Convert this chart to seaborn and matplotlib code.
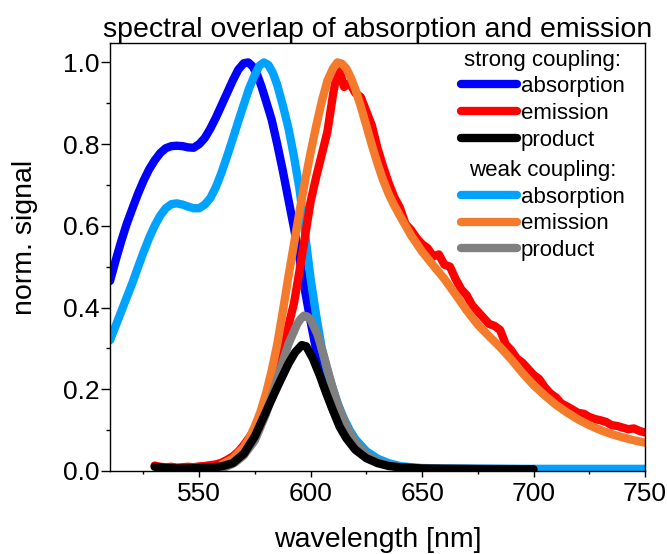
import matplotlib
matplotlib.use("Agg")
import matplotlib.pyplot as plt
import seaborn as sns
import pandas as pd

# ---- strong coupling: absorption ----
abs_strong_nm = [510, 512.5, 515, 517.5, 520, 522.5, 525, 527.5, 530, 532.5, 535, 537.5, 540,
                 542.5, 545, 547.5, 550, 552.5, 555, 557.5, 560, 562.5, 565, 567.5, 570, 572,
                 574, 576, 578, 580, 582.5, 585, 587.5, 590, 592.5, 595, 597.5, 600, 602.5,
                 605, 607.5, 610, 612.5, 615, 617.5, 620, 625, 630, 635, 640, 645, 650, 660,
                 700, 750]
abs_strong = [0.465, 0.515, 0.562, 0.605, 0.642, 0.678, 0.71, 0.738, 0.76, 0.778, 0.79, 0.795,
              0.796, 0.795, 0.792, 0.791, 0.80, 0.815, 0.838, 0.865, 0.895, 0.925, 0.955,
              0.982, 0.998, 1.0, 0.99, 0.97, 0.94, 0.905, 0.86, 0.80, 0.735, 0.665, 0.595,
              0.52, 0.44, 0.365, 0.295, 0.235, 0.188, 0.15, 0.12, 0.095, 0.075, 0.058, 0.036,
              0.022, 0.014, 0.009, 0.007, 0.006, 0.005, 0.004, 0.004]

# ---- weak coupling: absorption ----
abs_weak_nm = [510, 512.5, 515, 517.5, 520, 522.5, 525, 527.5, 530, 532.5, 535, 537.5, 540,
               542.5, 545, 547.5, 550, 552.5, 555, 557.5, 560, 562.5, 565, 567.5, 570, 572.5,
               575, 577, 579, 581, 583, 585, 587.5, 590, 592.5, 595, 597.5, 600, 602.5, 605,
               607.5, 610, 612.5, 615, 617.5, 620, 625, 630, 635, 640, 645, 650, 660, 700, 750]
abs_weak = [0.32, 0.355, 0.39, 0.425, 0.46, 0.498, 0.535, 0.57, 0.60, 0.625, 0.643, 0.653,
            0.655, 0.652, 0.647, 0.643, 0.643, 0.652, 0.668, 0.695, 0.73, 0.77, 0.812, 0.855,
            0.897, 0.938, 0.97, 0.992, 1.0, 0.994, 0.975, 0.945, 0.895, 0.84, 0.77, 0.69,
            0.58, 0.47, 0.38, 0.30, 0.245, 0.20, 0.16, 0.127, 0.10, 0.078, 0.048, 0.03, 0.019,
            0.012, 0.009, 0.007, 0.006, 0.005, 0.005]

# ---- strong coupling: emission (measured, noisy) ----
em_strong_nm = [530, 532.5, 535, 537.5, 540, 542.5, 545, 547.5, 550, 552.5, 555, 557.5, 560,
                562.5, 565, 567.5, 570, 572.5, 575, 577.5, 580, 582.5, 585, 587.5, 590, 592.5,
                595, 597.5, 600, 602.5, 605, 607.5, 610, 611.5, 613, 615, 617.5, 620, 622.5,
                625, 627.5, 630, 632.5, 635, 637.5, 640, 642.5, 645, 647.5, 650, 652.5, 655,
                657.5, 660, 662.5, 665, 667.5, 670, 672.5, 675, 677.5, 680, 682.5, 685, 687.5,
                690, 692.5, 695, 697.5, 700, 702.5, 705, 707.5, 710, 712.5, 715, 717.5, 720,
                722.5, 725, 727.5, 730, 732.5, 735, 737.5, 740, 742.5, 745, 747.5, 750]
em_strong = [0.013, 0.010, 0.009, 0.010, 0.008, 0.009, 0.010, 0.009, 0.011, 0.012, 0.014,
             0.016, 0.020, 0.027, 0.035, 0.047, 0.063, 0.082, 0.103, 0.128, 0.158, 0.195,
             0.24, 0.29, 0.355, 0.41, 0.49, 0.575, 0.66, 0.72, 0.775, 0.83, 0.92, 0.965, 0.98,
             0.94, 0.95, 0.925, 0.915, 0.88, 0.845, 0.79, 0.745, 0.705, 0.67, 0.645, 0.605,
             0.59, 0.57, 0.555, 0.545, 0.525, 0.53, 0.505, 0.50, 0.47, 0.445, 0.43, 0.405,
             0.39, 0.375, 0.36, 0.355, 0.345, 0.31, 0.295, 0.275, 0.265, 0.25, 0.235, 0.225,
             0.205, 0.19, 0.18, 0.165, 0.158, 0.15, 0.142, 0.14, 0.132, 0.127, 0.124, 0.12,
             0.112, 0.11, 0.106, 0.102, 0.104, 0.098, 0.094]

# ---- weak coupling: emission ----
em_weak_nm = [560, 565, 570, 572.5, 575, 577.5, 580, 582.5, 585, 587.5, 590, 592.5, 595, 597.5,
              600, 602.5, 605, 607.5, 610, 612, 614, 616, 618, 620, 622.5, 625, 627.5, 630,
              632.5, 635, 637.5, 640, 645, 650, 655, 660, 665, 670, 675, 680, 685, 690, 695,
              700, 705, 710, 715, 720, 725, 730, 735, 740, 745, 750]
em_weak = [0.015, 0.03, 0.058, 0.08, 0.11, 0.145, 0.19, 0.245, 0.31, 0.39, 0.475, 0.555, 0.635,
           0.71, 0.78, 0.845, 0.905, 0.955, 0.985, 1.0, 0.997, 0.985, 0.963, 0.935, 0.892,
           0.845, 0.797, 0.752, 0.712, 0.678, 0.65, 0.625, 0.577, 0.537, 0.503, 0.47, 0.432,
           0.393, 0.358, 0.33, 0.303, 0.273, 0.24, 0.21, 0.185, 0.162, 0.143, 0.126, 0.112,
           0.10, 0.09, 0.082, 0.075, 0.069]

# ---- strong coupling: overlap product ----
prod_strong_nm = [530, 535, 540, 545, 550, 555, 560, 565, 570, 575, 580, 585, 590, 593, 596,
                  598, 601, 604, 607, 610, 613, 616, 620, 625, 630, 635, 640, 650, 660, 680, 700]
prod_strong = [0.01, 0.007, 0.006, 0.006, 0.007, 0.008, 0.011, 0.019, 0.042, 0.085, 0.145,
               0.205, 0.262, 0.29, 0.308, 0.305, 0.275, 0.235, 0.19, 0.148, 0.108, 0.08,
               0.052, 0.031, 0.019, 0.012, 0.009, 0.006, 0.005, 0.004, 0.004]

# ---- weak coupling: overlap product ----
prod_weak_nm = [558, 562, 566, 570, 575, 580, 585, 590, 594, 595.5, 597, 598.5, 600, 603, 606,
                609, 612, 616, 620, 625, 630, 635, 640, 650, 700]
prod_weak = [0.005, 0.01, 0.02, 0.038, 0.075, 0.14, 0.225, 0.31, 0.36, 0.372, 0.38, 0.378,
             0.37, 0.335, 0.28, 0.22, 0.165, 0.11, 0.07, 0.04, 0.023, 0.014, 0.009, 0.006, 0.004]

legend_labels = ["absorption", "emission", "product"]
group_titles = ["strong coupling:", "weak coupling:"]

sns.set_style("ticks")
plt.rcParams["font.family"] = ["Liberation Sans", "DejaVu Sans"]
plt.rcParams.update({"text.color": "black", "axes.labelcolor": "black",
                     "xtick.color": "black", "ytick.color": "black",
                     "axes.edgecolor": "black"})

fig = plt.figure(figsize=(6.67, 5.54), dpi=100)
ax = fig.add_axes([0.165, 0.150, 0.802, 0.772])

LW = 6.0
series = [
    (abs_strong_nm, abs_strong, "#0000FF"),
    (abs_weak_nm, abs_weak, "#00A2FF"),
    (em_strong_nm, em_strong, "#FF0000"),
    (em_weak_nm, em_weak, "#F57B2C"),
    (prod_weak_nm, prod_weak, "#808080"),
    (prod_strong_nm, prod_strong, "#000000"),
]
lines = []
for xs, ys, col in series:
    df = pd.DataFrame({"wavelength": xs, "signal": ys})
    sns.lineplot(data=df, x="wavelength", y="signal", color=col, lw=LW,
                 estimator=None, sort=False, ax=ax,
                 solid_capstyle="round", solid_joinstyle="round")
    lines.append(ax.get_lines()[-1])

ax.set_xlim(510, 750)
ax.set_ylim(0, 1.047)
ax.set_xticks([550, 600, 650, 700, 750])
ax.set_xticks([525, 575, 625, 675, 725], minor=True)
ax.set_yticks([0.0, 0.2, 0.4, 0.6, 0.8, 1.0])
ax.set_yticks([0.1, 0.3, 0.5, 0.7, 0.9], minor=True)
ax.set_yticklabels([f"{v:.1f}" for v in [0.0, 0.2, 0.4, 0.6, 0.8, 1.0]])

for s in ax.spines.values():
    s.set_visible(True)
    s.set_linewidth(1.0)
    s.set_color("black")

ax.tick_params(axis="x", which="major", length=4.5, width=1.0, labelsize=19, pad=3.5,
               direction="out", color="black", labelcolor="black")
ax.tick_params(axis="x", which="minor", length=2.5, width=1.0, direction="out", color="black")
ax.tick_params(axis="y", which="major", length=6.5, width=1.0, labelsize=19, pad=1.0,
               direction="out", color="black", labelcolor="black")
ax.tick_params(axis="y", which="minor", length=3.0, width=1.0, direction="out", color="black")

ax.set_xlabel("wavelength [nm]", fontsize=20.5, color="black")
ax.set_ylabel("norm. signal", fontsize=20.5, color="black")
ax.xaxis.set_label_coords(0.5, -0.161)
ax.xaxis.label.set_va("center")
ax.yaxis.set_label_coords(-0.159, 0.547)
ax.yaxis.label.set_va("center")

ax.set_title("spectral overlap of absorption and emission", fontsize=20.5, pad=3.6,
             color="black")

leg_kw = dict(frameon=False, fontsize=16, title_fontsize=16, handlelength=2.5,
              handletextpad=0.18, labelspacing=0.26, borderpad=0.0, borderaxespad=0.0,
              loc="upper left", labelcolor="black")
leg1 = ax.legend(lines[0:1] + lines[2:3] + lines[5:6], legend_labels,
                 title=group_titles[0], bbox_to_anchor=(0.656, 0.985), **leg_kw)
ax.add_artist(leg1)
leg2 = ax.legend(lines[1:2] + lines[3:4] + lines[4:5], legend_labels,
                 title=group_titles[1], bbox_to_anchor=(0.656, 0.727), **leg_kw)
for lg in (leg1, leg2):
    lg._legend_box.sep = 4
    lg.get_title().set_color("black")
    for h in lg.legend_handles:
        h.set_linewidth(LW)
        h.set_solid_capstyle("round")

fig.savefig("out.png", dpi=100)
